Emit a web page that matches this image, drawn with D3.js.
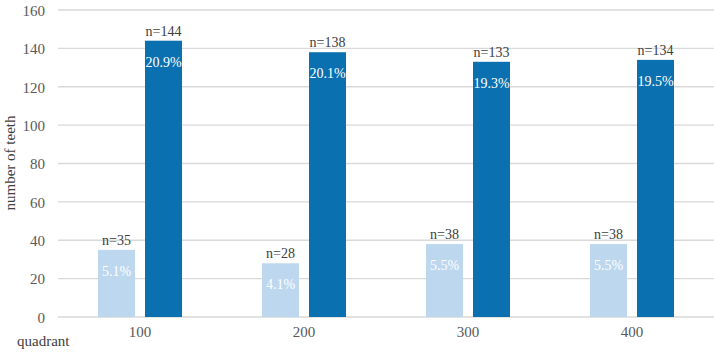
<!DOCTYPE html>
<html>
  <head>
    <meta charset='UTF-8'/>
    <script src="https://cdn.jsdelivr.net/npm/d3@7"></script>
    <style>
      body { margin : 0; background : white; }
      text { font-family : "Liberation Serif", "Times New Roman", serif; }
      .tick text { fill : #595959; font-size : 15px; }
      .nlab { fill : #404040; font-size : 14px; }
      .plab { fill : white; font-size : 14px; }
    </style>
  </head>
  <body>
    <svg id='fig' width='714' height='352'></svg>
    <script>
      const quadrants = ["100", "200", "300", "400"]
      const series = ["light", "dark"]
      const lightN = [35, 28, 38, 38]
      const lightPct = ["5.1%", "4.1%", "5.5%", "5.5%"]
      const darkN = [144, 138, 133, 134]
      const darkPct = ["20.9%", "20.1%", "19.3%", "19.5%"]
      const yTicks = [0, 20, 40, 60, 80, 100, 120, 140, 160]
      const colors = {light : "#bdd7ee", dark : "#0a70b0"}
      const serif = "'Liberation Serif', 'Times New Roman', serif"

      var svg = d3.select("#fig")

      var x0 = d3.scaleBand().domain(quadrants).range([58, 714])
	  .paddingInner(0.488).paddingOuter(0.244)
      var x1 = d3.scaleBand().domain(series).range([0, x0.bandwidth()])
	  .paddingInner(0.213)
      var y = d3.scaleLinear().domain([0, 160]).range([317, 10])

      // grid lines
      svg.append("g")
	  .selectAll("line")
	  .data(yTicks)
	  .join("line")
	  .attr("x1", 58).attr("x2", 714)
	  .attr("y1", d => y(d)).attr("y2", d => y(d))
	  .attr("stroke", "#d9d9d9")
	  .attr("stroke-width", 1.3)

      // y axis labels
      var ya = svg.append("g")
	  .attr("transform", "translate(50,0)")
	  .call(d3.axisLeft(y).tickValues(yTicks).tickSize(0).tickPadding(5))
	  .attr("font-family", serif)
	  .attr("font-size", 15)
      ya.select(".domain").remove()
      ya.selectAll("text").attr("dy", "0.35em")

      // x axis labels
      var xa = svg.append("g")
	  .attr("transform", "translate(0,322)")
	  .call(d3.axisBottom(x0).tickSize(0).tickPadding(4))
	  .attr("font-family", serif)
	  .attr("font-size", 15)
      xa.select(".domain").remove()

      var rows = quadrants.map((q, i) => ({
	  q : q,
	  bars : [
	      {s : "light", n : lightN[i], p : lightPct[i]},
	      {s : "dark", n : darkN[i], p : darkPct[i]}
	  ]
      }))

      var g = svg.append("g")
	  .selectAll("g")
	  .data(rows)
	  .join("g")
	  .attr("transform", d => `translate(${x0(d.q)},0)`)

      var b = g.selectAll("g")
	  .data(d => d.bars)
	  .join("g")

      b.append("rect")
	  .attr("x", d => x1(d.s))
	  .attr("width", x1.bandwidth())
	  .attr("y", d => y(d.n))
	  .attr("height", d => y(0) - y(d.n))
	  .attr("fill", d => colors[d.s])

      b.append("text")
	  .attr("class", "nlab")
	  .attr("text-anchor", "middle")
	  .attr("x", d => x1(d.s) + x1.bandwidth()/2)
	  .attr("y", d => y(d.n) - 5)
	  .text(d => "n=" + d.n)

      b.append("text")
	  .attr("class", "plab")
	  .attr("text-anchor", "middle")
	  .attr("x", d => x1(d.s) + x1.bandwidth()/2)
	  .attr("y", d => y(d.n) + 26)
	  .text(d => d.p)

      svg.append("text")
	  .attr("transform", "translate(15,163) rotate(-90)")
	  .attr("text-anchor", "middle")
	  .attr("fill", "#404040")
	  .attr("font-family", serif)
	  .attr("font-size", "15px")
	  .text("number of teeth")

      svg.append("text")
	  .attr("x", 17).attr("y", 346)
	  .attr("fill", "#404040")
	  .attr("font-family", serif)
	  .attr("font-size", "15px")
	  .text("quadrant")
    </script>
  </body>
</html>
